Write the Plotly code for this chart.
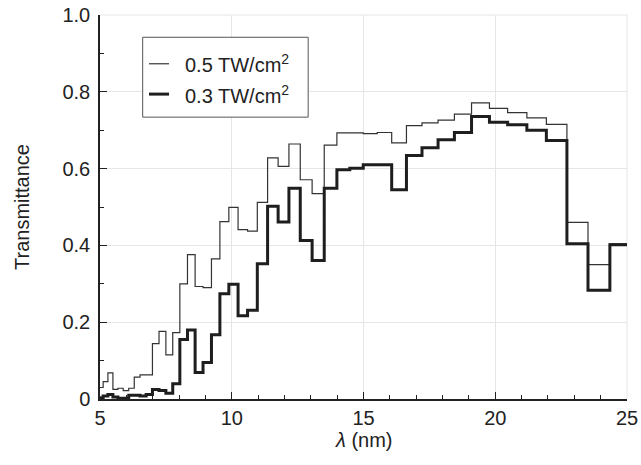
import plotly.graph_objects as go

# Bin edges (nm)
edges = [5.00, 5.12, 5.30, 5.49, 5.68, 5.88, 6.09, 6.30, 6.52, 6.75, 6.99, 7.24, 7.50, 7.76,
         8.03, 8.32, 8.61, 8.91, 9.23, 9.55, 9.89, 10.24, 10.60, 10.97, 11.36, 11.76, 12.17,
         12.60, 13.05, 13.51, 13.99, 14.48, 14.99, 15.52, 16.07, 16.63, 17.22, 17.83, 18.45,
         19.10, 19.78, 20.47, 21.20, 21.94, 22.72, 23.52, 24.35, 25.20]

# Transmittance per bin, 0.5 TW/cm^2 (thin line)
t_05 = [0.030, 0.045, 0.068, 0.025, 0.028, 0.022, 0.028, 0.057, 0.063, 0.063, 0.144, 0.176,
        0.115, 0.173, 0.300, 0.376, 0.293, 0.290, 0.365, 0.462, 0.499, 0.441, 0.437, 0.512,
        0.628, 0.606, 0.664, 0.571, 0.535, 0.661, 0.693, 0.693, 0.691, 0.694, 0.667, 0.712,
        0.719, 0.726, 0.742, 0.771, 0.757, 0.746, 0.732, 0.715, 0.460, 0.350, 0.404]

# Transmittance per bin, 0.3 TW/cm^2 (thick line)
t_03 = [0.003, 0.008, 0.012, 0.005, 0.002, 0.002, 0.010, 0.010, 0.008, 0.012, 0.025, 0.022,
        0.015, 0.040, 0.155, 0.180, 0.069, 0.095, 0.167, 0.274, 0.299, 0.217, 0.231, 0.352,
        0.502, 0.461, 0.549, 0.413, 0.361, 0.549, 0.597, 0.601, 0.610, 0.610, 0.545, 0.634,
        0.654, 0.675, 0.694, 0.736, 0.721, 0.714, 0.700, 0.673, 0.404, 0.283, 0.402]

series_names = ["0.5 TW/cm<sup>2</sup>", "0.3 TW/cm<sup>2</sup>"]
x_ticks = [5, 10, 15, 20, 25]
y_ticks = [0, 0.2, 0.4, 0.6, 0.8, 1.0]
y_ticklabels = ["0", "0.2", "0.4", "0.6", "0.8", "1.0"]

FONT = "Liberation Sans, Arial, Helvetica, sans-serif"
TXT = "#222222"
GRID = "#e6e6e6"
thin = dict(color="#333333", width=1.2)
thick = dict(color="#1e1e1e", width=3)

fig = go.Figure()
fig.add_trace(go.Scatter(x=edges, y=t_05 + [t_05[-1]], mode="lines", line_shape="hv",
                         line=thin, name=series_names[0], showlegend=False))
fig.add_trace(go.Scatter(x=edges, y=t_03 + [t_03[-1]], mode="lines", line_shape="hv",
                         line=thick, name=series_names[1], showlegend=False))

fig.update_layout(
    width=641, height=465,
    margin=dict(l=100, r=14, t=15, b=66, autoexpand=False),
    paper_bgcolor="white", plot_bgcolor="white",
    font=dict(family=FONT, size=20, color=TXT),
    showlegend=False,
)
common = dict(ticks="inside", ticklen=7, tickwidth=1, tickcolor=TXT,
              showline=True, linecolor=TXT, linewidth=1.5,
              showgrid=True, gridcolor=GRID, gridwidth=1,
              zeroline=False, mirror=False, automargin=False,
              ticklabeloverflow="allow",
              tickfont=dict(size=20, color=TXT))
fig.update_xaxes(range=[5, 25], tickmode="array", tickvals=x_ticks,
                 minor=dict(ticks="inside", ticklen=4, dtick=1, tickcolor=TXT, showgrid=False),
                 **common)
fig.update_yaxes(range=[0, 1], tickmode="array", tickvals=y_ticks, ticktext=y_ticklabels,
                 ticklabelstandoff=4,
                 minor=dict(ticks="inside", ticklen=4, dtick=0.1, tickcolor=TXT, showgrid=False),
                 **common)

# Grid lines along the top (y=1) and right (x=25) edges of the plot area
fig.add_shape(type="line", xref="paper", yref="paper", x0=0, x1=1, y0=1, y1=1,
              line=dict(color=GRID, width=1), layer="below")
fig.add_shape(type="line", xref="paper", yref="paper", x0=1, x1=1, y0=0, y1=1,
              line=dict(color=GRID, width=1), layer="below")

# Axis titles
fig.add_annotation(text="<i>λ</i> (nm)", xref="paper", yref="paper", x=0.5, y=-0.108,
                   showarrow=False, xanchor="center", yanchor="middle",
                   font=dict(size=20, color=TXT))
fig.add_annotation(text="Transmittance", xref="paper", yref="paper", x=-0.148, y=0.5,
                   showarrow=False, textangle=-90, xanchor="center", yanchor="middle",
                   font=dict(size=20, color=TXT))

# Legend box
fig.add_shape(type="rect", xref="paper", yref="paper", x0=0.081, x1=0.395, y0=0.734, y1=0.942,
              line=dict(color="#555555", width=1), fillcolor="white", layer="above")
for yy, ln, nm in [(0.873, thin, series_names[0]), (0.794, thick, series_names[1])]:
    fig.add_shape(type="line", xref="paper", yref="paper", x0=0.093, x1=0.131, y0=yy, y1=yy,
                  line=ln, layer="above")
    fig.add_annotation(text=nm, xref="paper", yref="paper", x=0.1575, y=yy,
                       showarrow=False, xanchor="left", yanchor="middle",
                       font=dict(size=20, color=TXT))

# remove the default 8px page margin so the figure fills the window exactly
fig.write_html("out.html", config={"displayModeBar": False},
               post_script="document.body.style.margin='0px';")
